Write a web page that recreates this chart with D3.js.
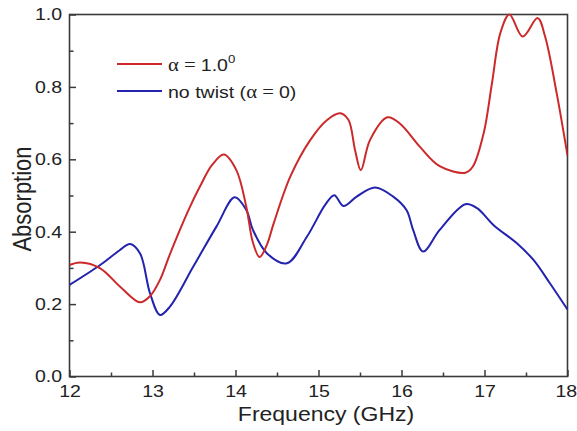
<!DOCTYPE html>
<html>
<head>
<meta charset="utf-8">
<script src="https://cdn.jsdelivr.net/npm/d3@7"></script>
<style>
  html, body { margin: 0; padding: 0; background: #fff; }
  svg { display: block; font-family: Arial, "Liberation Sans", sans-serif; }
</style>
</head>
<body>
<svg id="chart" width="577" height="431"></svg>
<script>
// Absorption spectra: twisted (alpha = 1.0 deg) vs untwisted structure
const twistFreq = [12.00, 12.13, 12.37, 12.61, 12.85, 12.97, 13.09, 13.20, 13.33, 13.45, 13.57, 13.72, 13.86, 14.01, 14.13, 14.21, 14.29, 14.38, 14.46, 14.66, 14.90, 15.10, 15.26, 15.36, 15.44, 15.51, 15.62, 15.83, 15.98, 16.22, 16.46, 16.77, 16.86, 16.99, 17.09, 17.19, 17.30, 17.46, 17.64, 17.73, 17.87, 18.00];
const twistAbs  = [0.308, 0.315, 0.299, 0.248, 0.205, 0.222, 0.267, 0.332, 0.405, 0.468, 0.524, 0.585, 0.613, 0.570, 0.469, 0.370, 0.330, 0.365, 0.423, 0.552, 0.653, 0.708, 0.727, 0.709, 0.626, 0.570, 0.653, 0.716, 0.699, 0.635, 0.581, 0.563, 0.580, 0.672, 0.810, 0.948, 1.000, 0.939, 0.990, 0.939, 0.782, 0.610];

const plainFreq = [12.00, 12.37, 12.60, 12.73, 12.85, 12.97, 13.09, 13.21, 13.49, 13.77, 13.99, 14.13, 14.21, 14.38, 14.62, 14.86, 15.08, 15.19, 15.30, 15.46, 15.68, 15.90, 16.06, 16.14, 16.26, 16.46, 16.77, 16.91, 17.11, 17.39, 17.59, 17.79, 18.00];
const plainAbs  = [0.253, 0.308, 0.348, 0.366, 0.340, 0.230, 0.170, 0.193, 0.303, 0.414, 0.495, 0.460, 0.405, 0.340, 0.313, 0.386, 0.474, 0.501, 0.471, 0.497, 0.522, 0.497, 0.460, 0.405, 0.345, 0.405, 0.476, 0.465, 0.418, 0.368, 0.322, 0.257, 0.185];

const xTicks = [12, 13, 14, 15, 16, 17, 18];
const xMinorTicks = [12.5, 13.5, 14.5, 15.5, 16.5, 17.5];
const yTicks = [0.0, 0.2, 0.4, 0.6, 0.8, 1.0];
const yMinorTicks = [0.1, 0.3, 0.5, 0.7, 0.9];

const svg = d3.select("#chart");
const plotLeft = 69.5, plotRight = 567.5, plotTop = 14.5, plotBottom = 376.5;
const widen = 1.15;          // horizontal stretch applied to all lettering
const ink = "#222", axisColor = "#3a3a3a";
const red = "#cc2a2a", blue = "#2323ad";

const x = d3.scaleLinear().domain([12, 18]).range([plotLeft, plotRight]);
const y = d3.scaleLinear().domain([0, 1]).range([plotBottom, plotTop]);

// Frame
svg.append("rect")
  .attr("x", plotLeft).attr("y", plotTop)
  .attr("width", plotRight - plotLeft).attr("height", plotBottom - plotTop)
  .attr("fill", "none").attr("stroke", axisColor).attr("stroke-width", 1.6);

function styleAxis(g) {
  g.select(".domain").remove();
  g.selectAll(".tick line").attr("stroke", axisColor).attr("stroke-width", 1.5);
  g.selectAll(".tick text").attr("font-size", 17).attr("fill", ink)
    .attr("transform", `scale(${widen},1)`);
}

// Bottom axis: inward ticks, major + minor
const gx = svg.append("g").attr("transform", `translate(0,${plotBottom})`)
  .call(d3.axisBottom(x).tickValues(xTicks).tickSizeInner(-6.5).tickSizeOuter(0)
    .tickFormat(d3.format("d")).tickPadding(8))
  .call(styleAxis);
// keep the last label inside the page edge
gx.selectAll(".tick text").filter(d => d === 18).attr("x", -1.5);
svg.append("g").attr("transform", `translate(0,${plotBottom})`)
  .call(d3.axisBottom(x).tickValues(xMinorTicks).tickSizeInner(-4).tickSizeOuter(0).tickFormat(""))
  .call(styleAxis);

// Left axis
svg.append("g").attr("transform", `translate(${plotLeft},0)`)
  .call(d3.axisLeft(y).tickValues(yTicks).tickSizeInner(-6.5).tickSizeOuter(0)
    .tickFormat(d3.format(".1f")).tickPadding(6.5))
  .call(styleAxis);
svg.append("g").attr("transform", `translate(${plotLeft},0)`)
  .call(d3.axisLeft(y).tickValues(yMinorTicks).tickSizeInner(-4).tickSizeOuter(0).tickFormat(""))
  .call(styleAxis);

// Axis titles
svg.append("text")
  .attr("transform", `translate(326,421) scale(${widen},1)`)
  .attr("text-anchor", "middle").attr("font-size", 20).attr("fill", ink)
  .text("Frequency (GHz)");
svg.append("text")
  .attr("transform", `translate(31,199) scale(${widen},1) rotate(-90)`)
  .attr("text-anchor", "middle").attr("font-size", 22).attr("fill", ink)
  .text("Absorption");

// Curves
const line = d3.line()
  .x(d => x(d[0])).y(d => y(d[1]))
  .curve(d3.curveCatmullRom.alpha(0.5));

svg.append("clipPath").attr("id", "plotClip")
  .append("rect").attr("x", plotLeft).attr("y", plotTop - 2)
  .attr("width", plotRight - plotLeft).attr("height", plotBottom - plotTop + 2);

svg.append("path")
  .datum(d3.zip(plainFreq, plainAbs))
  .attr("d", line).attr("fill", "none")
  .attr("stroke", blue).attr("stroke-width", 2).attr("clip-path", "url(#plotClip)");
svg.append("path")
  .datum(d3.zip(twistFreq, twistAbs))
  .attr("d", line).attr("fill", "none")
  .attr("stroke", red).attr("stroke-width", 2).attr("clip-path", "url(#plotClip)");

// Legend: symbol-font alpha and equals sign, sans-serif text
const serif = "'Liberation Serif', 'Times New Roman', serif";
const legendItems = [
  { color: red, y: 64, parts: [["α = ", serif], ["1.0", null]], sup: "0" },
  { color: blue, y: 91, parts: [["no twist (", null], ["α = ", serif], ["0)", null]], sup: null }
];
const legend = svg.append("g");
legendItems.forEach(it => {
  legend.append("line")
    .attr("x1", 117).attr("x2", 162).attr("y1", it.y).attr("y2", it.y)
    .attr("stroke", it.color).attr("stroke-width", 2);
  const t = legend.append("text")
    .attr("transform", `translate(168,${it.y + 6.5}) scale(${widen},1)`)
    .attr("font-size", 17).attr("fill", ink);
  it.parts.forEach(([s, fam]) => {
    const sp = t.append("tspan").text(s);
    if (fam) sp.attr("font-family", fam).attr("font-size", 18);
  });
  if (it.sup) {
    t.append("tspan").attr("font-size", 11.5).attr("dy", -7.5).text(it.sup);
  }
});
</script>
</body>
</html>
